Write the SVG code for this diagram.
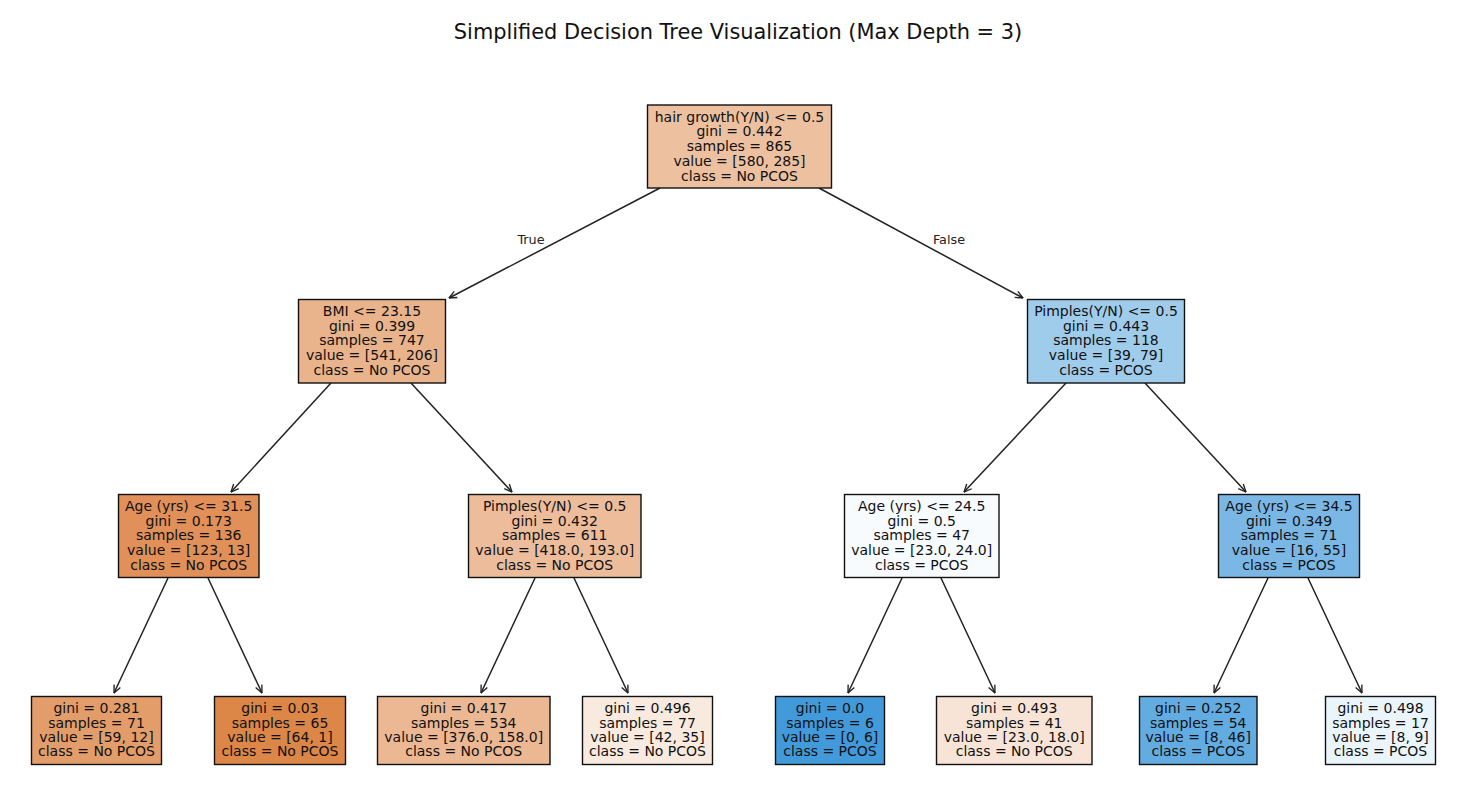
<svg xmlns="http://www.w3.org/2000/svg" width="1478" height="796" viewBox="0 0 1478 796">
<defs>
<style>
.box{stroke:#111;stroke-width:1.4}
.t{font-family:"DejaVu Sans",sans-serif;font-size:14px;fill:#111;text-anchor:middle}
.title{font-family:"DejaVu Sans",sans-serif;font-size:20.9px;fill:#111;text-anchor:middle}
.lbl{font-family:"DejaVu Sans",sans-serif;font-size:12.8px;fill:#222;text-anchor:middle}
.e{stroke:#222;stroke-width:1.5;fill:none;marker-end:url(#ah)}
</style>
<marker id="ah" viewBox="0 0 10 10" refX="9.5" refY="5" markerWidth="9" markerHeight="9" markerUnits="userSpaceOnUse" orient="auto">
<path d="M1,1.2 L9.5,5 L1,8.8" fill="none" stroke="#222" stroke-width="1.5"/>
</marker>
</defs>
<rect width="1478" height="796" fill="#fff"/>
<text class="title" x="738" y="39">Simplified Decision Tree Visualization (Max Depth = 3)</text>

<g id="connectors">
<line class="e" x1="660" y1="188" x2="449" y2="298"/>
<line class="e" x1="819" y1="188" x2="1023" y2="298"/>
<line class="e" x1="331" y1="383" x2="231" y2="492"/>
<line class="e" x1="411" y1="383" x2="512" y2="492"/>
<line class="e" x1="1066" y1="383" x2="964" y2="492"/>
<line class="e" x1="1145" y1="383" x2="1246" y2="492"/>
<line class="e" x1="168" y1="578" x2="114" y2="693"/>
<line class="e" x1="208" y1="578" x2="262" y2="693"/>
<line class="e" x1="535" y1="578" x2="481" y2="693"/>
<line class="e" x1="574" y1="578" x2="628" y2="693"/>
<line class="e" x1="902" y1="578" x2="848" y2="693"/>
<line class="e" x1="941" y1="578" x2="995" y2="693"/>
<line class="e" x1="1268" y1="578" x2="1214" y2="693"/>
<line class="e" x1="1308" y1="578" x2="1362" y2="693"/>
<text class="lbl" x="531" y="244">True</text>
<text class="lbl" x="949" y="244">False</text>
</g>

<g id="n0">
<rect class="box" x="647.5" y="105" width="184" height="83" fill="#edc0a0"/>
<text class="t" y="121.7"><tspan x="739.5">hair growth(Y/N) &lt;= 0.5</tspan><tspan x="739.5" dy="14.7">gini = 0.442</tspan><tspan x="739.5" dy="14.7">samples = 865</tspan><tspan x="739.5" dy="14.7">value = [580, 285]</tspan><tspan x="739.5" dy="14.7">class = No PCOS</tspan></text>
</g>

<g id="n1">
<rect class="box" x="298.5" y="299.5" width="147" height="83.5" fill="#e9b38b"/>
<text class="t" y="316"><tspan x="372">BMI &lt;= 23.15</tspan><tspan x="372" dy="14.7">gini = 0.399</tspan><tspan x="372" dy="14.7">samples = 747</tspan><tspan x="372" dy="14.7">value = [541, 206]</tspan><tspan x="372" dy="14.7">class = No PCOS</tspan></text>
</g>

<g id="n2">
<rect class="box" x="1027.5" y="299.5" width="157" height="83.5" fill="#a0ccec"/>
<text class="t" y="316"><tspan x="1106">Pimples(Y/N) &lt;= 0.5</tspan><tspan x="1106" dy="14.7">gini = 0.443</tspan><tspan x="1106" dy="14.7">samples = 118</tspan><tspan x="1106" dy="14.7">value = [39, 79]</tspan><tspan x="1106" dy="14.7">class = PCOS</tspan></text>
</g>

<g id="n3">
<rect class="box" x="118.5" y="494.5" width="140.5" height="83" fill="#e09058"/>
<text class="t" y="511"><tspan x="188.7">Age (yrs) &lt;= 31.5</tspan><tspan x="188.7" dy="14.7">gini = 0.173</tspan><tspan x="188.7" dy="14.7">samples = 136</tspan><tspan x="188.7" dy="14.7">value = [123, 13]</tspan><tspan x="188.7" dy="14.7">class = No PCOS</tspan></text>
</g>

<g id="n4">
<rect class="box" x="468.5" y="494.5" width="172.5" height="83" fill="#ecbc9b"/>
<text class="t" y="511"><tspan x="554.7">Pimples(Y/N) &lt;= 0.5</tspan><tspan x="554.7" dy="14.7">gini = 0.432</tspan><tspan x="554.7" dy="14.7">samples = 611</tspan><tspan x="554.7" dy="14.7">value = [418.0, 193.0]</tspan><tspan x="554.7" dy="14.7">class = No PCOS</tspan></text>
</g>

<g id="n5">
<rect class="box" x="844.5" y="494.5" width="154.5" height="83" fill="#f7fbfe"/>
<text class="t" y="511"><tspan x="921.7">Age (yrs) &lt;= 24.5</tspan><tspan x="921.7" dy="14.7">gini = 0.5</tspan><tspan x="921.7" dy="14.7">samples = 47</tspan><tspan x="921.7" dy="14.7">value = [23.0, 24.0]</tspan><tspan x="921.7" dy="14.7">class = PCOS</tspan></text>
</g>

<g id="n6">
<rect class="box" x="1218.5" y="494.5" width="141" height="83" fill="#7ab7e5"/>
<text class="t" y="511"><tspan x="1289">Age (yrs) &lt;= 34.5</tspan><tspan x="1289" dy="14.7">gini = 0.349</tspan><tspan x="1289" dy="14.7">samples = 71</tspan><tspan x="1289" dy="14.7">value = [16, 55]</tspan><tspan x="1289" dy="14.7">class = PCOS</tspan></text>
</g>

<g id="n7">
<rect class="box" x="31.5" y="696.5" width="130" height="68" fill="#e39d6a"/>
<text class="t" y="713.3"><tspan x="96.5">gini = 0.281</tspan><tspan x="96.5" dy="14.3">samples = 71</tspan><tspan x="96.5" dy="14.3">value = [59, 12]</tspan><tspan x="96.5" dy="14.3">class = No PCOS</tspan></text>
</g>

<g id="n8">
<rect class="box" x="214.5" y="696.5" width="131" height="68" fill="#dc8647"/>
<text class="t" y="713.3"><tspan x="280">gini = 0.03</tspan><tspan x="280" dy="14.3">samples = 65</tspan><tspan x="280" dy="14.3">value = [64, 1]</tspan><tspan x="280" dy="14.3">class = No PCOS</tspan></text>
</g>

<g id="n9">
<rect class="box" x="377.5" y="696.5" width="172.5" height="68" fill="#ebb893"/>
<text class="t" y="713.3"><tspan x="463.7">gini = 0.417</tspan><tspan x="463.7" dy="14.3">samples = 534</tspan><tspan x="463.7" dy="14.3">value = [376.0, 158.0]</tspan><tspan x="463.7" dy="14.3">class = No PCOS</tspan></text>
</g>

<g id="n10">
<rect class="box" x="582.5" y="696.5" width="130" height="68" fill="#f9eadf"/>
<text class="t" y="713.3"><tspan x="647.5">gini = 0.496</tspan><tspan x="647.5" dy="14.3">samples = 77</tspan><tspan x="647.5" dy="14.3">value = [42, 35]</tspan><tspan x="647.5" dy="14.3">class = No PCOS</tspan></text>
</g>

<g id="n11">
<rect class="box" x="775.5" y="696.5" width="109" height="68" fill="#429ada"/>
<text class="t" y="713.3"><tspan x="830">gini = 0.0</tspan><tspan x="830" dy="14.3">samples = 6</tspan><tspan x="830" dy="14.3">value = [0, 6]</tspan><tspan x="830" dy="14.3">class = PCOS</tspan></text>
</g>

<g id="n12">
<rect class="box" x="936.5" y="696.5" width="155.5" height="68" fill="#f7e4d6"/>
<text class="t" y="713.3"><tspan x="1014.2">gini = 0.493</tspan><tspan x="1014.2" dy="14.3">samples = 41</tspan><tspan x="1014.2" dy="14.3">value = [23.0, 18.0]</tspan><tspan x="1014.2" dy="14.3">class = No PCOS</tspan></text>
</g>

<g id="n13">
<rect class="box" x="1139.5" y="696.5" width="117.5" height="68" fill="#63ace1"/>
<text class="t" y="713.3"><tspan x="1198.2">gini = 0.252</tspan><tspan x="1198.2" dy="14.3">samples = 54</tspan><tspan x="1198.2" dy="14.3">value = [8, 46]</tspan><tspan x="1198.2" dy="14.3">class = PCOS</tspan></text>
</g>

<g id="n14">
<rect class="box" x="1325.5" y="696.5" width="110" height="68" fill="#eaf4fb"/>
<text class="t" y="713.3"><tspan x="1380.5">gini = 0.498</tspan><tspan x="1380.5" dy="14.3">samples = 17</tspan><tspan x="1380.5" dy="14.3">value = [8, 9]</tspan><tspan x="1380.5" dy="14.3">class = PCOS</tspan></text>
</g>
</svg>
